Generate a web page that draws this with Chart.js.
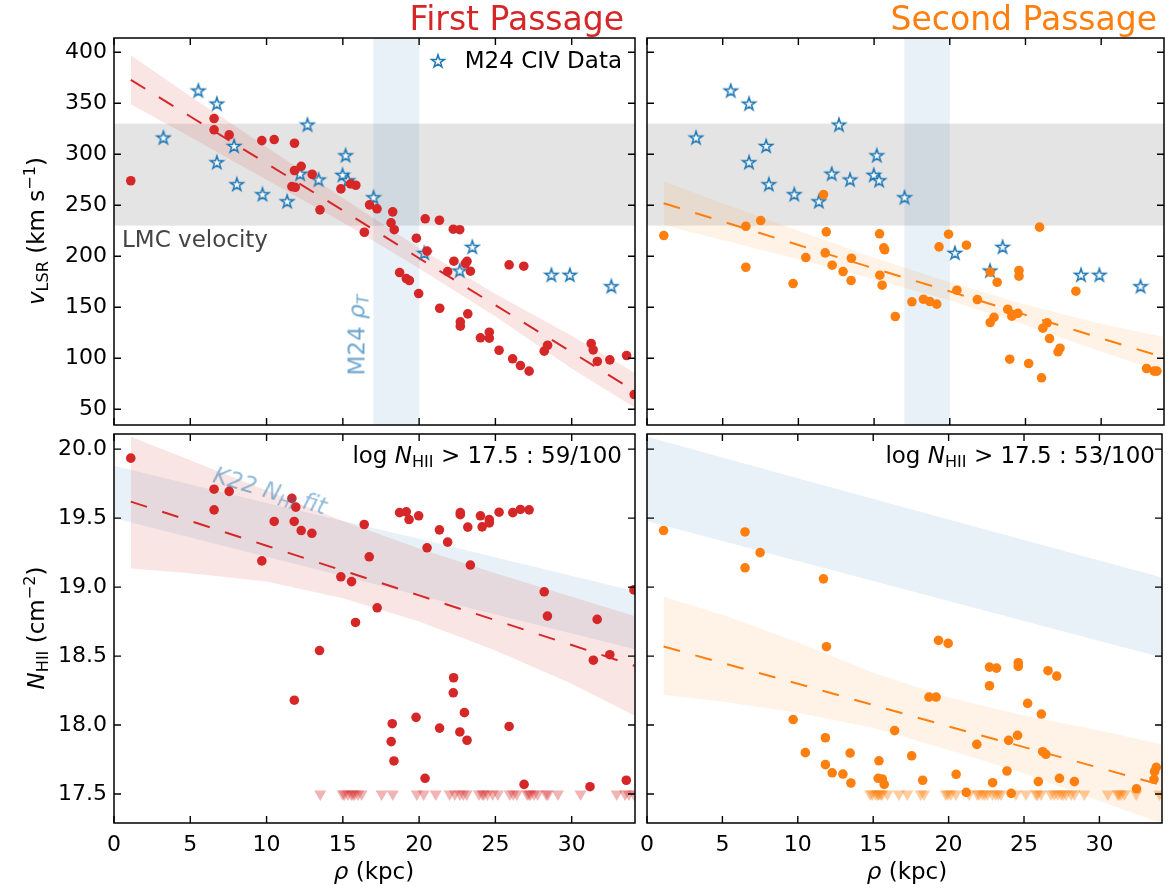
<!DOCTYPE html>
<html>
<head>
<meta charset="utf-8">
<script src="https://cdn.jsdelivr.net/npm/chart.js@4.4.1/dist/chart.umd.min.js"></script>
<style>
  html, body { margin: 0; padding: 0; background: #fff; }
  #fig { position: relative; width: 1169px; height: 892px; overflow: hidden; font-family: 'DejaVu Sans', sans-serif; }
  #fig canvas { position: absolute; left: 0; top: 0; }
  .t { position: absolute; white-space: nowrap; line-height: 1; font-size: 23px; color: #000; }
  .t sub { font-size: 70%; vertical-align: -0.25em; line-height: 0; }
  .t sup { font-size: 70%; vertical-align: 0.55em; line-height: 0; }
</style>
</head>
<body>
<div id="fig">
  <canvas id="tl" width="1169" height="892"></canvas>
  <canvas id="tr" width="1169" height="892"></canvas>
  <canvas id="bl" width="1169" height="892"></canvas>
  <canvas id="br" width="1169" height="892"></canvas>

  <div class="t" style="right:545px;top:2px;font-size:33px;color:#d62728">First Passage</div>
  <div class="t" style="right:12px;top:2px;font-size:33px;color:#ff7f0e">Second Passage</div>

  <div class="t" style="left:36px;top:231px;transform:translate(-50%,-50%) rotate(-90deg)"><i>v</i><sub>LSR</sub> (km s<sup>−1</sup>)</div>
  <div class="t" style="left:36px;top:628px;transform:translate(-50%,-50%) rotate(-90deg)"><i>N</i><sub>HII</sub> (cm<sup>−2</sup>)</div>
  <div class="t" style="left:374px;top:871px;transform:translate(-50%,-50%)"><i>ρ</i> (kpc)</div>
  <div class="t" style="left:907px;top:871px;transform:translate(-50%,-50%)"><i>ρ</i> (kpc)</div>

  <div class="t" style="left:122px;top:228px;color:#444">LMC velocity</div>
  <div class="t" style="left:357px;top:335px;transform:translate(-50%,-50%) rotate(-90deg);color:rgba(31,119,180,0.65)">M24 <i>ρ<sub>T</sub></i></div>
  <div class="t" style="left:270px;top:491px;transform:translate(-50%,-50%) rotate(16.3deg);color:rgba(31,119,180,0.5);font-style:italic">K22 <i>N</i><sub>HI</sub> fit</div>
  <div class="t" style="right:547px;top:444px">log <i>N</i><sub>HII</sub> &gt; 17.5 : 59/100</div>
  <div class="t" style="right:14px;top:444px">log <i>N</i><sub>HII</sub> &gt; 17.5 : 53/100</div>
</div>

<script>
// ---- data ----
const RHO_MAX = 34.15;
const V_RANGE = [34.5, 414];
const N_RANGE = [17.29, 20.11];
const LMC_V = [230, 330];          // grey band, LMC velocity
const M24_RHO = [17, 20];          // blue band, M24 rho_T
const LIMIT_N = 17.5;              // upper limits are drawn here

// M24 CIV data (stars, same in both top panels)
const STAR_RHO = [5.53, 6.74, 3.24, 7.87, 6.74, 12.68, 15.18, 8.05, 9.73, 11.35, 12.2, 13.41, 14.98, 15.33, 17.01, 20.34, 23.49, 22.66, 28.67, 29.88, 32.6];
const STAR_V = [362.5, 349.7, 316.4, 308.2, 292.2, 329.1, 299, 270.6, 260.8, 253.9, 281, 275.2, 279.8, 274.5, 257.8, 203.3, 209.2, 186, 181.8, 181.8, 170.6];

// first passage, velocity
const FP_V_RHO = [1.1, 6.56, 6.56, 7.55, 9.69, 10.5, 11.83, 11.83, 12.27, 12.99, 11.66, 11.88, 13.5, 14.87, 15.5, 15.85, 16.75, 17.24, 16.41, 18.27,
  18.16, 18.37, 20.4, 21.33, 22.24, 22.66, 19.82, 20.52, 22.28, 23.14, 23.03, 21.87, 23.36, 25.9, 26.86, 18.72, 19.16, 19.36, 19.97, 21.35,
  23.19, 22.7, 22.7, 24.02, 24.6, 24.6, 25.24, 26.13, 26.64, 27.21, 28.2, 28.42, 31.28, 31.41, 31.68, 32.5, 33.6, 34.1];
const FP_V = [274, 335, 324, 319, 313.4, 314.4, 310.8, 284, 288.2, 280.4, 268.3, 267.6, 245.5, 266, 271, 269.6, 250.4, 246.5, 223.5, 243.5,
  232.7, 226, 236.7, 235.3, 226.5, 226, 217.7, 205, 195.1, 195, 192.8, 185, 185.3, 191.5, 190.2, 184, 178.1, 176.2, 163.4, 149,
  143.5, 135.7, 131.4, 120, 125.5, 119.6, 107.8, 99.4, 92.8, 87.3, 106.9, 112.7, 114.4, 108.2, 96.8, 98.4, 102.6, 64.4];

// second passage, velocity
const SP_V_RHO = [1.11, 11.66, 7.51, 6.53, 6.53, 9.65, 10.49, 11.84, 11.77, 12.23, 12.95, 13.48, 13.5, 15.36, 15.64, 15.7, 15.38, 15.53, 16.4, 19.29,
  19.92, 21.1, 25.93, 20.47, 21.82, 17.5, 18.26, 18.68, 19.14, 22.67, 23.13, 24.57, 24.57, 28.33, 23.83, 24.1, 24.5, 22.67, 22.92, 26.15,
  26.43, 26.59, 27.15, 27.28, 23.96, 25.21, 26.06, 33.0, 33.5, 33.68];
const SP_V = [220.3, 260.5, 235, 229.4, 189.2, 173.2, 198.7, 223.9, 203.3, 191.2, 185, 176.2, 198, 222, 208.2, 206.3, 181.4, 171.6, 140.9, 209.2,
  221.6, 210.8, 228.5, 166.7, 157.5, 155.3, 157.8, 155.6, 153, 184.4, 174.5, 186, 180.4, 165.7, 148, 141.2, 144, 135, 140, 129.4,
  134.7, 119.3, 106.3, 109.8, 99, 94.8, 80.8, 89.9, 87.3, 87.3];

// first passage, column density (detections)
const FP_N_RHO = [1.1, 6.56, 7.55, 6.56, 9.69, 10.5, 11.66, 11.92, 11.81, 12.27, 12.97, 14.87, 15.57, 16.4, 16.73, 17.25, 15.83, 18.72, 19.16, 19.34,
  19.97, 21.33, 20.52, 21.87, 22.7, 22.7, 23.19, 24.02, 24.13, 24.6, 24.6, 25.24, 26.14, 26.64, 27.21, 23.36, 28.2, 28.41, 31.67, 34.08,
  11.82, 13.47, 18.24, 18.17, 18.35, 19.8, 20.39, 21.34, 22.26, 22.24, 22.97, 22.67, 23.14, 25.9, 26.88, 31.42, 32.5, 31.2, 33.58];
const FP_N = [19.935, 19.71, 19.694, 19.56, 19.19, 19.476, 19.643, 19.58, 19.476, 19.41, 19.39, 19.075, 19.04, 19.454, 19.22, 18.85, 18.744, 19.54, 19.546, 19.49,
  19.517, 19.415, 19.285, 19.326, 19.54, 19.525, 19.435, 19.517, 19.437, 19.49, 19.466, 19.543, 19.54, 19.563, 19.56, 19.16, 18.966, 18.79, 18.766, 18.98,
  18.18, 18.54, 18.01, 17.88, 17.74, 18.056, 17.614, 17.978, 18.343, 18.234, 18.09, 17.95, 17.89, 17.99, 17.57, 18.47, 18.51, 17.553, 17.6];
// first passage, upper limits (rho only)
const FP_LIM_RHO = [13.52, 14.99, 15.1, 15.33, 15.55, 15.66, 15.78, 16.0, 16.23, 17.54, 18.27, 19.85, 20.3, 21.09, 22.0, 22.34, 22.67, 22.9, 23.12, 23.92,
  24.14, 24.25, 24.48, 24.82, 25.16, 25.94, 26.17, 26.4, 27.08, 27.2, 27.3, 27.53, 27.76, 28.33, 28.44, 29.1, 30.58, 32.95, 33.5, 33.75, 34.08];

// second passage, column density (detections)
const SP_N_RHO = [1.1, 6.5, 6.5, 7.5, 11.7, 11.9, 19.33, 19.97, 22.71, 23.18, 22.71, 24.62, 24.62, 26.59, 27.17, 18.7, 19.17, 25.24, 26.15, 9.69,
  16.42, 11.83, 10.5, 13.47, 17.55, 21.87, 23.98, 24.57, 26.24, 26.45, 15.38, 11.83, 12.28, 12.99, 13.52, 15.33, 15.6, 15.73, 18.28, 20.5,
  21.17, 22.92, 23.87, 24.15, 25.95, 27.35, 28.34, 32.46, 33.66, 33.77, 33.62];
const SP_N = [19.41, 19.4, 19.14, 19.25, 19.06, 18.568, 18.614, 18.592, 18.42, 18.413, 18.285, 18.452, 18.425, 18.394, 18.355, 18.203, 18.203, 18.157, 18.08, 18.04,
  17.96, 17.908, 17.8, 17.797, 17.777, 17.86, 17.889, 17.925, 17.807, 17.788, 17.741, 17.713, 17.654, 17.645, 17.58, 17.614, 17.609, 17.57, 17.6, 17.643,
  17.512, 17.582, 17.667, 17.505, 17.59, 17.614, 17.59, 17.538, 17.662, 17.693, 17.607];
const SP_LIM_RHO = [14.8, 14.94, 15.16, 15.3, 15.38, 15.5, 15.6, 15.94, 16.7, 17.26, 18.15, 18.37, 19.81, 19.95, 20.14, 20.48, 21.36, 21.9, 22.03, 22.25,
  22.4, 22.58, 22.91, 23.13, 23.3, 23.47, 24.46, 25.13, 25.8, 25.9, 26.13, 26.79, 27.01, 27.23, 27.46, 27.6, 27.79, 28.12, 28.34, 29.0,
  30.56, 31.22, 31.3, 31.44, 31.66, 32.44, 33.99];

// linear fits with their confidence bands
const FIT_RHO = [1.1, 5, 10, 15, 20, 25, 30, 34.1];
const FP_V_FIT = [373, 337, 291, 245, 198, 152, 106, 68];
const FP_V_HI = [397, 357, 307, 257, 208, 163, 122, 86];
const FP_V_LO = [349, 317, 275, 233, 188, 141, 90, 52];
const SP_V_FIT = [252, 234, 211, 188, 165.5, 142.5, 119.5, 101];
const SP_V_HI = [273.5, 252, 225, 198.5, 174.5, 152.5, 133.5, 121];
const SP_V_LO = [230.5, 216, 197, 177.5, 156.5, 132.5, 106.5, 86];
const FP_N_FIT = [19.62, 19.48, 19.3, 19.12, 18.94, 18.76, 18.58, 18.43];
const FP_N_HI = [20.09, 19.92, 19.7, 19.48, 19.28, 19.1, 18.93, 18.79];
const FP_N_LO = [19.135, 19.1, 19.04, 18.92, 18.75, 18.54, 18.3, 18.07];
const SP_N_FIT = [18.57, 18.45, 18.3, 18.145, 17.99, 17.84, 17.69, 17.565];
const SP_N_HI = [18.93, 18.8, 18.6, 18.38, 18.2, 18.07, 17.96, 17.86];
const SP_N_LO = [18.22, 18.17, 18.09, 17.98, 17.82, 17.65, 17.45, 17.29];
// K22 N_HI fit band, as drawn in each lower panel
const K22_RHO = [0, 10, 20, 34.15];
const K22_HI_FP = [19.88, 19.61, 19.35, 18.97];
const K22_LO_FP = [19.5, 19.22, 18.94, 18.55];
const K22_HI_SP = [20.09, 19.79, 19.49, 19.07];
const K22_LO_SP = [19.48, 19.19, 18.9, 18.49];

// ---- styling ----
const RED = '#d62728', ORANGE = '#ff7f0e', BLUE = '#1f77b4';
const W = 1169, H = 892;
Chart.defaults.font.family = "'DejaVu Sans', sans-serif";
Chart.defaults.color = '#000';

// open five-point star like matplotlib's '*'
function makeStar() {
  const c = document.createElement('canvas');
  c.width = 18; c.height = 18;
  const g = c.getContext('2d');
  const R = 6.8, r = R * 0.382;
  g.beginPath();
  for (let i = 0; i < 10; i++) {
    const ang = -Math.PI / 2 + i * Math.PI / 5;
    const rad = i % 2 ? r : R;
    g.lineTo(9 + rad * Math.cos(ang), 9.6 + rad * Math.sin(ang));
  }
  g.closePath();
  g.fillStyle = '#fff';
  g.fill();
  g.lineWidth = 1.5;
  g.strokeStyle = BLUE;
  g.stroke();
  return c;
}
const STAR_IMG = makeStar();

const pts = (xs, ys) => xs.map((x, i) => ({ x: x, y: ys[i] }));

function dots(xs, ys, color) {
  return { data: pts(xs, ys), pointRadius: 4.8, pointBackgroundColor: color, pointBorderWidth: 0, order: 0, clip: 0 };
}
function stars() {
  return { data: pts(STAR_RHO, STAR_V), pointStyle: STAR_IMG, order: 1, clip: 0 };
}
function limits(xs, color) {
  return { data: xs.map(x => ({ x: x, y: LIMIT_N })), pointStyle: 'triangle', pointRotation: 180, pointRadius: 7,
    pointBackgroundColor: color, pointBorderWidth: 0, order: 2, clip: 0 };
}
function fitLine(ys, color) {
  return { type: 'line', data: pts(FIT_RHO, ys), borderColor: color, borderWidth: 2, borderDash: [17, 16],
    pointRadius: 0, fill: false, tension: 0, order: 3, clip: 0 };
}
// two datasets: upper edge filled down to the lower edge
function band(xs, hi, lo, color, order) {
  return [
    { type: 'line', data: pts(xs, hi), borderColor: 'transparent', borderWidth: 0, pointRadius: 0, fill: '+1', backgroundColor: color, order: order, clip: 0 },
    { type: 'line', data: pts(xs, lo), borderColor: 'transparent', borderWidth: 0, pointRadius: 0, fill: false, order: order, clip: 0 }
  ];
}

// bands behind the data, inward ticks and the axes frame on top
const frame = {
  id: 'frame',
  beforeDatasetsDraw(chart, args, o) {
    const { ctx, chartArea: a, scales: { x, y } } = chart;
    ctx.save();
    (o.hBands || []).forEach(b => {
      const y1 = y.getPixelForValue(b.range[1]), y0 = y.getPixelForValue(b.range[0]);
      ctx.fillStyle = b.color;
      ctx.fillRect(a.left, y1, a.right - a.left, y0 - y1);
    });
    (o.vBands || []).forEach(b => {
      const x0 = x.getPixelForValue(b.range[0]), x1 = x.getPixelForValue(b.range[1]);
      ctx.fillStyle = b.color;
      ctx.fillRect(x0, a.top, x1 - x0, a.bottom - a.top);
    });
    ctx.restore();
  },
  afterDraw(chart, args, o) {
    const { ctx, chartArea: a, scales: { x, y } } = chart;
    const len = 7;
    ctx.save();
    ctx.strokeStyle = '#000';
    ctx.lineWidth = 1.4;
    ctx.beginPath();
    x.ticks.forEach(t => {
      const px = x.getPixelForValue(t.value);
      ctx.moveTo(px, a.bottom); ctx.lineTo(px, a.bottom - len);
      ctx.moveTo(px, a.top); ctx.lineTo(px, a.top + len);
    });
    y.ticks.forEach(t => {
      const py = y.getPixelForValue(t.value);
      ctx.moveTo(a.left, py); ctx.lineTo(a.left + len, py);
      ctx.moveTo(a.right, py); ctx.lineTo(a.right - len, py);
    });
    ctx.stroke();
    ctx.lineWidth = 1.5;
    ctx.strokeRect(a.left, a.top, a.right - a.left, a.bottom - a.top);
    if (o.legend) {
      ctx.drawImage(STAR_IMG, a.right - 206, a.top + 14);
      ctx.font = "23px 'DejaVu Sans'";
      ctx.fillStyle = '#000';
      ctx.textAlign = 'right';
      ctx.textBaseline = 'alphabetic';
      ctx.fillText(o.legend, a.right - 13, a.top + 30);
    }
    ctx.restore();
  }
};

// box = [left, top, right, bottom] of the plot area; the axes take the
// whole margin on the left and bottom so their labels are not clipped
function panel(id, box, cfg) {
  const yw = box[0], xh = H - box[3];
  return new Chart(document.getElementById(id), {
    type: 'scatter',
    data: { datasets: cfg.datasets },
    options: {
      responsive: false,
      animation: false,
      devicePixelRatio: 1,
      layout: { padding: { left: 0, top: box[1], right: W - box[2], bottom: 0 } },
      plugins: { legend: { display: false }, tooltip: { enabled: false }, frame: cfg.frame || {} },
      scales: {
        x: {
          min: 0, max: RHO_MAX,
          afterFit: s => { s.height = xh; },
          grid: { display: false, drawTicks: false },
          border: { display: false },
          ticks: { display: cfg.xLabels, stepSize: 5, padding: 9, includeBounds: false, maxRotation: 0, autoSkip: false, color: '#000', font: { size: 22 } }
        },
        y: {
          min: cfg.yRange[0], max: cfg.yRange[1],
          afterFit: s => { s.width = yw; },
          grid: { display: false, drawTicks: false },
          border: { display: false },
          ticks: { display: cfg.yLabels, stepSize: cfg.yStep, padding: 7, includeBounds: false, autoSkip: false, color: '#000', font: { size: 22 },
            callback: cfg.yFmt }
        }
      }
    },
    plugins: [frame]
  });
}

const topBands = {
  hBands: [{ range: LMC_V, color: 'rgba(0,0,0,0.105)' }],
  vBands: [{ range: M24_RHO, color: 'rgba(31,119,180,0.1)' }]
};
const fmtN = v => v.toFixed(1);

panel('tl', [114, 38, 635, 425], {
  yRange: V_RANGE, yStep: 50, xLabels: false, yLabels: true,
  frame: Object.assign({ legend: 'M24 CIV Data' }, topBands),
  datasets: [dots(FP_V_RHO, FP_V, RED), stars(), fitLine(FP_V_FIT, RED)]
    .concat(band(FIT_RHO, FP_V_HI, FP_V_LO, 'rgba(214,39,40,0.12)', 4))
});

panel('tr', [647, 38, 1167, 425], {
  yRange: V_RANGE, yStep: 50, xLabels: false, yLabels: false,
  frame: topBands,
  datasets: [dots(SP_V_RHO, SP_V, ORANGE), stars(), fitLine(SP_V_FIT, ORANGE)]
    .concat(band(FIT_RHO, SP_V_HI, SP_V_LO, 'rgba(255,127,14,0.1)', 4))
});

panel('bl', [114, 434, 635, 823], {
  yRange: N_RANGE, yStep: 0.5, xLabels: true, yLabels: true, yFmt: fmtN,
  datasets: [dots(FP_N_RHO, FP_N, RED), limits(FP_LIM_RHO, 'rgba(214,39,40,0.35)'), fitLine(FP_N_FIT, RED)]
    .concat(band(FIT_RHO, FP_N_HI, FP_N_LO, 'rgba(214,39,40,0.12)', 4))
    .concat(band(K22_RHO, K22_HI_FP, K22_LO_FP, 'rgba(31,119,180,0.1)', 5))
});

panel('br', [647, 434, 1167, 823], {
  yRange: N_RANGE, yStep: 0.5, xLabels: true, yLabels: false, yFmt: fmtN,
  datasets: [dots(SP_N_RHO, SP_N, ORANGE), limits(SP_LIM_RHO, 'rgba(255,127,14,0.4)'), fitLine(SP_N_FIT, ORANGE)]
    .concat(band(FIT_RHO, SP_N_HI, SP_N_LO, 'rgba(255,127,14,0.1)', 4))
    .concat(band(K22_RHO, K22_HI_SP, K22_LO_SP, 'rgba(31,119,180,0.1)', 5))
});
</script>
</body>
</html>
